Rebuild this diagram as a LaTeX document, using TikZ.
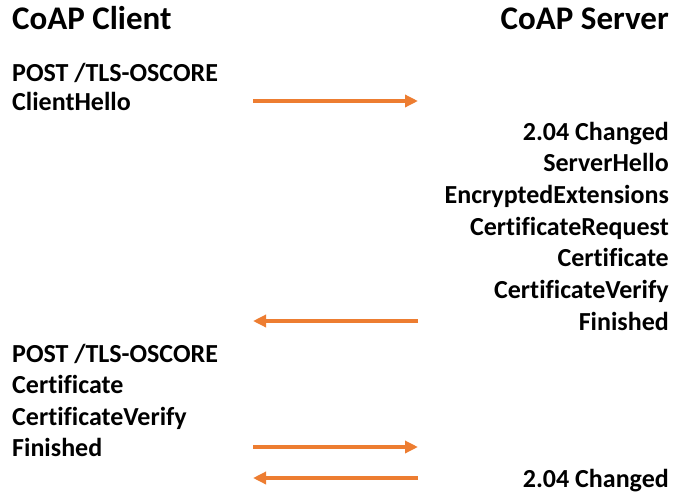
\documentclass[tikz,border=0pt]{standalone}
\usepackage{fontspec}
\setmainfont{Carlito}[Ligatures=NoCommon]
\usetikzlibrary{arrows.meta}
\definecolor{arrorange}{HTML}{ED7D31}
\tikzset{
  x=1pt, y=-1pt,
  title/.style={font=\fontsize{33}{33}\selectfont\bfseries, inner sep=0pt},
  msgL/.style={font=\fontsize{26}{26}\selectfont\bfseries, inner sep=0pt, anchor=base west},
  msgR/.style={font=\fontsize{26}{26}\selectfont\bfseries, inner sep=0pt, anchor=base east},
  flow/.style={draw=arrorange, line width=4pt, -{Triangle[length=13pt,width=12pt]}}
}
\begin{document}
\begin{tikzpicture}
\useasboundingbox (0,0) rectangle (675,493);
\node[title, anchor=base west] (ct) at (12,29) {CoAP Client};
\node[title, anchor=base east] (st) at (669,29) {CoAP Server};

\node[msgL] (c1a) at (12,81) {POST /TLS-OSCORE};
\node[msgL] (c1b) at (12,110) {ClientHello};

\node[msgR] (s1) at (669,140) {2.04 Changed};
\node[msgR] (s2) at (669,171.5) {ServerHello};
\node[msgR] (s3) at (669,203) {EncryptedExtensions};
\node[msgR] (s4) at (669,235) {CertificateRequest};
\node[msgR] (s5) at (669,266.5) {Certificate};
\node[msgR] (s6) at (669,298.5) {CertificateVerify};
\node[msgR] (s7) at (669,330) {Finished};

\node[msgL] (c2a) at (12,362) {POST /TLS-OSCORE};
\node[msgL] (c2b) at (12,393) {Certificate};
\node[msgL] (c2c) at (12,425) {CertificateVerify};
\node[msgL] (c2d) at (12,456) {Finished};

\node[msgR] (s8) at (669,487) {2.04 Changed};

\coordinate (a1l) at (253,101);
\coordinate (a1r) at (418,101);
\coordinate (a2l) at (253,321);
\coordinate (a2r) at (418,321);
\coordinate (a3l) at (253,447);
\coordinate (a3r) at (418,447);
\coordinate (a4l) at (253,478);
\coordinate (a4r) at (418,478);

\draw[flow] (a1l) -- (a1r);
\draw[flow] (a2r) -- (a2l);
\draw[flow] (a3l) -- (a3r);
\draw[flow] (a4r) -- (a4l);
\end{tikzpicture}
\end{document}
